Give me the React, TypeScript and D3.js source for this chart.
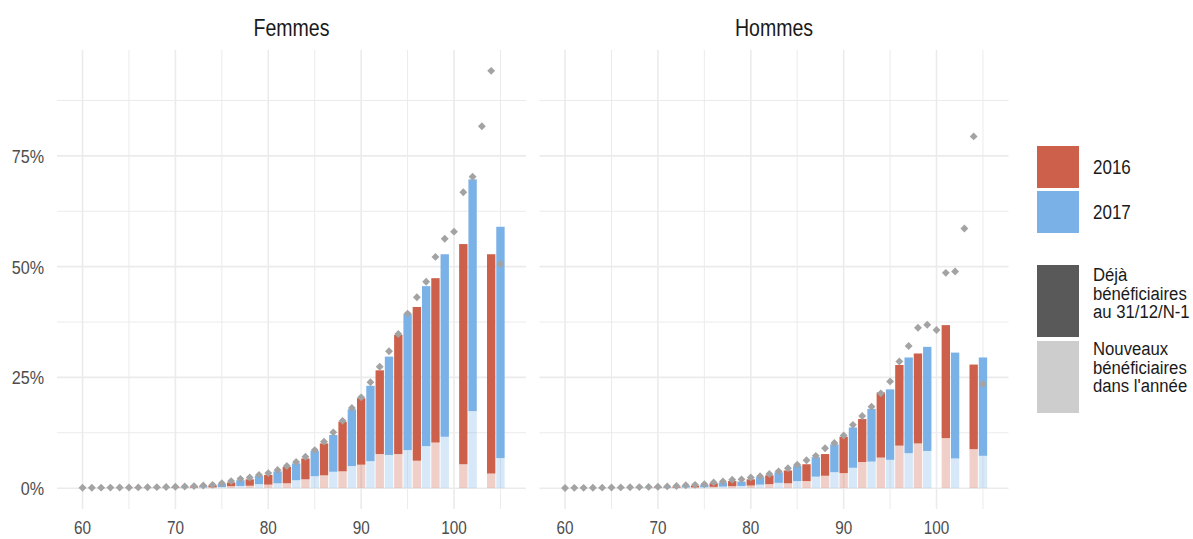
import React from 'react';
import * as d3 from 'd3';

// ---- data (percent) ----
const ages = [60,61,62,63,64,65,66,67,68,69,70,71,72,73,74,75,76,77,78,79,80,81,82,83,84,85,86,87,88,89,90,91,92,93,94,95,96,97,98,99,100,101,102,103,104,105];
// year of the bar drawn at each age (null = no bar)
const barYear = [2016,2017,2016,2017,2016,2017,2016,2017,2016,2017,2016,2017,2016,2017,2016,2017,2016,2017,2016,2017,2016,2017,2016,2017,2016,2017,2016,2017,2016,2017,2016,2017,2016,2017,2016,2017,2016,2017,2016,2017,null,2016,2017,null,2016,2017];

const femmesTotal = [0.05,0.06,0.07,0.08,0.09,0.1,0.12,0.14,0.17,0.2,0.25,0.32,0.4,0.52,0.65,0.95,1.3,1.8,2.0,2.8,3.0,3.8,4.8,5.6,6.7,8.4,10.1,12.0,15.0,17.8,20.3,23.1,26.6,29.7,34.6,39.3,40.9,45.6,47.4,52.8,null,55.1,69.7,null,52.8,59.0];
const femmesNew = [0.02,0.02,0.03,0.03,0.03,0.04,0.04,0.05,0.06,0.07,0.08,0.1,0.12,0.15,0.18,0.25,0.45,0.5,0.55,0.9,0.8,1.1,1.1,1.8,2.0,2.7,2.9,3.7,3.8,5.0,5.3,6.1,7.7,7.5,7.7,8.6,6.2,9.5,10.3,11.6,null,5.4,17.4,null,3.3,6.8];
const femmesDot = [0.1,0.1,0.12,0.13,0.14,0.16,0.18,0.2,0.23,0.27,0.32,0.38,0.47,0.6,0.75,1.1,1.6,2.1,2.4,3.0,3.4,4.1,5.0,5.9,7.1,8.6,10.5,12.6,15.2,18.1,20.5,23.9,27.4,30.9,34.8,39.4,43.1,46.6,52.2,56.3,57.9,66.8,70.3,81.7,94.2,50.6];

const hommesTotal = [0.03,0.04,0.05,0.06,0.07,0.08,0.1,0.12,0.15,0.18,0.22,0.28,0.35,0.5,0.6,0.75,1.1,1.3,1.6,1.5,2.0,2.5,2.9,3.6,4.0,5.1,5.4,7.0,7.7,9.9,11.6,13.7,15.6,17.9,21.6,22.3,27.8,29.5,30.4,31.9,null,36.8,30.6,null,27.9,29.5];
const hommesNew = [0.01,0.01,0.02,0.02,0.02,0.03,0.03,0.04,0.05,0.06,0.07,0.09,0.11,0.14,0.17,0.2,0.3,0.35,0.45,0.5,0.6,0.8,0.9,1.2,1.1,1.6,1.6,2.6,2.8,3.6,3.4,4.6,5.9,6.0,6.9,6.4,9.6,7.9,10.1,8.4,null,11.3,6.7,null,8.8,7.3];
const hommesDot = [0.05,0.07,0.08,0.1,0.12,0.14,0.17,0.2,0.24,0.28,0.33,0.4,0.5,0.65,0.75,0.9,1.3,1.5,1.9,2.0,2.4,2.7,3.2,3.8,4.5,5.3,6.3,7.3,9.0,10.2,11.9,14.3,16.3,18.4,21.4,24.1,28.6,32.1,36.2,36.9,35.7,48.6,48.9,58.6,79.4,23.5];

const panels = [
  { title: 'Femmes', total: femmesTotal, fresh: femmesNew, dot: femmesDot },
  { title: 'Hommes', total: hommesTotal, fresh: hommesNew, dot: hommesDot },
];

const xMajor = [60, 70, 80, 90, 100];
const xMinor = [65, 75, 85, 95, 105];
const yMajor = [0, 0.25, 0.5, 0.75];
const yMinor = [0.125, 0.375, 0.625, 0.875];
const yLabels = ['0%', '25%', '50%', '75%'];

const yearColors: Record<number, string> = { 2016: '#CD604A', 2017: '#7AB2E8' };
const legendYears = [2016, 2017];
const legendTypes = [
  { lines: ['Déjà', 'bénéficiaires', 'au 31/12/N-1'], color: '#595959' },
  { lines: ['Nouveaux', 'bénéficiaires', "dans l'année"], color: '#CDCDCD' },
];

const W = 1193;
const H = 539;
const panelLefts = [57, 539.5];
const panelWidth = 469;
const yTop = 50;
const yBottom = 509;
const FONT = "'Liberation Sans', Arial, sans-serif";
const SX = 0.85;

function T({ x, y, size, anchor = 'start', fill = '#1a1a1a', sx = SX, children }: any) {
  return (
    <text
      transform={`translate(${x},${y}) scale(${sx},1)`}
      fontSize={size}
      fontFamily={FONT}
      textAnchor={anchor}
      fill={fill}
    >
      {children}
    </text>
  );
}

export default function App() {
  const y = d3.scaleLinear().domain([-0.047, 0.989]).range([yBottom, yTop]);
  const diamond = d3.symbol().type(d3.symbolSquare).size(31)() as string;

  return (
    <svg width={W} height={H} style={{ position: 'absolute', left: 0, top: 0, background: '#fff' }}>
      {panels.map((p, pi) => {
        const left = panelLefts[pi];
        const x = d3.scaleLinear().domain([57.25, 107.75]).range([left, left + panelWidth]);
        const bw = (x(1) - x(0)) * 0.9;
        return (
          <g key={p.title}>
            {/* grid */}
            {yMinor.map((v) => (
              <line key={'ym' + v} x1={left} x2={left + panelWidth} y1={y(v)} y2={y(v)} stroke="#ebebeb" strokeWidth={1} />
            ))}
            {xMinor.map((v) => (
              <line key={'xm' + v} x1={x(v)} x2={x(v)} y1={yTop} y2={yBottom} stroke="#ebebeb" strokeWidth={1} />
            ))}
            {yMajor.map((v) => (
              <line key={'yM' + v} x1={left} x2={left + panelWidth} y1={y(v)} y2={y(v)} stroke="#ebebeb" strokeWidth={1.6} />
            ))}
            {xMajor.map((v) => (
              <line key={'xM' + v} x1={x(v)} x2={x(v)} y1={yTop} y2={yBottom} stroke="#ebebeb" strokeWidth={1.6} />
            ))}
            {/* bars */}
            {ages.map((a, i) => {
              const yr = barYear[i];
              const tot = p.total[i];
              const fr = p.fresh[i];
              if (yr == null || tot == null || fr == null) return null;
              const c = yearColors[yr];
              return (
                <g key={'b' + a}>
                  <rect x={x(a) - bw / 2} width={bw} y={y(fr / 100)} height={y(0) - y(fr / 100)} fill={c} fillOpacity={0.3} />
                  <rect x={x(a) - bw / 2} width={bw} y={y(tot / 100)} height={y(fr / 100) - y(tot / 100)} fill={c} />
                </g>
              );
            })}
            {/* dots */}
            {ages.map((a, i) => (
              <path key={'d' + a} d={diamond} transform={`translate(${x(a)},${y(p.dot[i] / 100)}) rotate(45)`} fill="#a3a3a3" />
            ))}
            {/* strip */}
            <T x={left + panelWidth / 2} y={36} size={23} anchor="middle">{p.title}</T>
            {/* x labels */}
            {xMajor.map((v) => (
              <T key={'xl' + v} x={x(v)} y={534} size={18} anchor="middle" fill="#4d4d4d">{String(v)}</T>
            ))}
          </g>
        );
      })}
      {/* y labels */}
      {yMajor.map((v, i) => (
        <T key={'yl' + v} x={44} y={y(v) + 7} size={19} anchor="end" fill="#4d4d4d">{yLabels[i]}</T>
      ))}
      {/* legend */}
      {legendYears.map((yr, i) => (
        <g key={'ly' + yr}>
          <rect x={1037} y={146 + i * 45} width={42} height={42} fill={yearColors[yr]} />
          <T x={1093} y={174 + i * 45} size={20}>{String(yr)}</T>
        </g>
      ))}
      {legendTypes.map((lt, i) => (
        <g key={'lt' + i}>
          <rect x={1037} y={265 + i * 76} width={42} height={72} fill={lt.color} />
          {lt.lines.map((ln, j) => (
            <T key={j} x={1093} y={281 + i * 74 + j * 18.5} size={19} sx={0.88}>{ln}</T>
          ))}
        </g>
      ))}
    </svg>
  );
}
